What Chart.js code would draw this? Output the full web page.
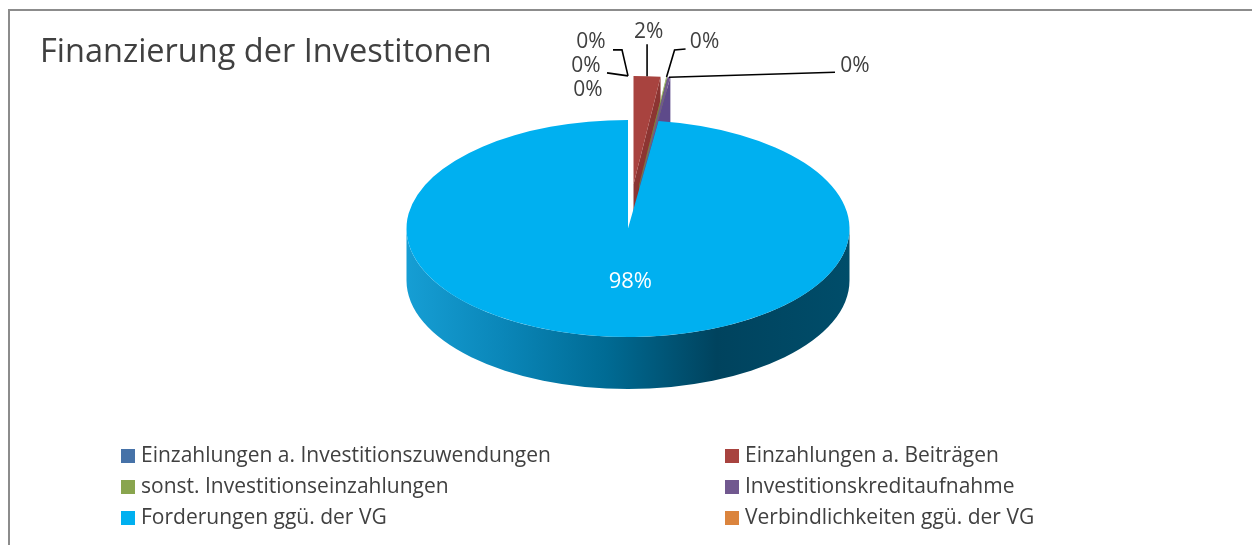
<!DOCTYPE html>
<html>
<head>
<meta charset="utf-8">
<script src="https://cdn.jsdelivr.net/npm/chart.js@4.4.0/dist/chart.umd.min.js"></script>
<style>
  html, body { margin: 0; padding: 0; background: #fff; }
  canvas { display: block; }
</style>
</head>
<body>
<canvas id="chart" width="1252" height="545"></canvas>
<script>
var title = "Finanzierung der Investitonen",
    labels = ["Einzahlungen a. Investitionszuwendungen", "Einzahlungen a. Beiträgen",
              "sonst. Investitionseinzahlungen", "Investitionskreditaufnahme",
              "Forderungen ggü. der VG", "Verbindlichkeiten ggü. der VG", "Sonstiges"],
    values = [0, 1.95, 0.05, 0.2, 97.8, 0, 0];

var colors = ["#4672a8", "#a8433f", "#89a54e", "#71588f", "#00b0f0", "#db843d", "#93a9cf"],
    sideColors = ["#35588a", "#8c3532", "#6f8a3c", "#5e4a8a", "#006b94", "#b86a2c", "#7088b0"],
    explode = [90, 90, 90, 90, 0, 90, 90],
    tilt = 0.49,
    depth = 52,
    textColor = "#404040",
    font = "'Open Sans', sans-serif";

// where each percentage sits, relative to the rim point of its slice,
// plus the leader line start / elbow relative to the label centre
var labelStyle = [
    { dx: -37, dy: -34, line: [[22, 8], [31, 8]] },
    { dx: 1.5, dy: -44, line: [[-1.5, 12]] },
    { dx: 38, dy: -35, line: [[-19, 7], [-30, 8]] },
    { dx: 186, dy: -11, line: [[-20, 6]] },
    { inside: true, dx: 10, dy: -1 },
    { dx: -42, dy: -10, line: [[21, 7]] },
    { dx: -40, dy: 14 }
];

function total() {
    return values.reduce(function (a, b) { return a + b; }, 0);
}

function origin(arc, i) {
    var mid = (arc.startAngle + arc.endAngle) / 2,
        e = explode[i];
    return { x: arc.x + e * Math.cos(mid), y: arc.y + e * Math.sin(mid) * tilt, mid: mid };
}

function rim(o, r, t, dz) {
    return { x: o.x + r * Math.cos(t), y: o.y + r * Math.sin(t) * tilt + (dz || 0) };
}

function cutFace(ctx, o, r, t) {
    var a = rim(o, r, t, 0), b = rim(o, r, t, depth);
    ctx.beginPath();
    ctx.moveTo(o.x, o.y);
    ctx.lineTo(a.x, a.y);
    ctx.lineTo(b.x, b.y);
    ctx.lineTo(o.x, o.y + depth);
    ctx.closePath();
    ctx.fill();
}

function drawSlice(ctx, arc, i) {
    var o = origin(arc, i),
        r = arc.outerRadius,
        a0 = arc.startAngle,
        a1 = arc.endAngle;

    ctx.fillStyle = sideColors[i];
    // flat sides that face the viewer
    if (Math.cos(a0) < -1e-6) cutFace(ctx, o, r, a0);
    if (Math.cos(a1) > 1e-6) cutFace(ctx, o, r, a1);

    // curved outer wall, front half only
    var s = Math.max(a0, 0), e = Math.min(a1, Math.PI);
    if (e > s) {
        var g = ctx.createLinearGradient(o.x - r, 0, o.x + r, 0);
        if (i === 4) {
            g.addColorStop(0, "#169ed4");
            g.addColorStop(0.22, "#0a86b8");
            g.addColorStop(0.45, "#006b94");
            g.addColorStop(0.70, "#00435e");
            g.addColorStop(1, "#004d6a");
        } else {
            g.addColorStop(0, sideColors[i]);
            g.addColorStop(1, sideColors[i]);
        }
        ctx.fillStyle = g;
        ctx.beginPath();
        ctx.ellipse(o.x, o.y, r, r * tilt, 0, s, e, false);
        ctx.ellipse(o.x, o.y + depth, r, r * tilt, 0, e, s, true);
        ctx.closePath();
        ctx.fill();
    }

    // top face
    ctx.fillStyle = colors[i];
    ctx.beginPath();
    ctx.moveTo(o.x, o.y);
    ctx.ellipse(o.x, o.y, r, r * tilt, 0, a0, a1, false);
    ctx.closePath();
    ctx.fill();
}

function drawLabels(chart) {
    var ctx = chart.ctx,
        meta = chart.getDatasetMeta(0),
        sum = total();

    ctx.save();
    ctx.textAlign = "center";
    ctx.textBaseline = "middle";
    meta.data.forEach(function (arc, i) {
        var st = labelStyle[i], o = origin(arc, i), r = arc.outerRadius,
            text = Math.round(values[i] / sum * 100) + "%", lx, ly;
        if (st.inside) {
            lx = o.x + r * 0.5 * Math.cos(o.mid) + st.dx;
            ly = o.y + r * 0.5 * Math.sin(o.mid) * tilt + st.dy;
            ctx.font = "22px " + font;
            ctx.fillStyle = "#ffffff";
        } else {
            var p = rim(o, r, o.mid);
            lx = p.x + st.dx;
            ly = p.y + st.dy;
            if (st.line) {
                ctx.strokeStyle = "#000000";
                ctx.lineWidth = 1.6;
                ctx.beginPath();
                st.line.forEach(function (pt, j) {
                    if (j === 0) ctx.moveTo(lx + pt[0], ly + pt[1]);
                    else ctx.lineTo(lx + pt[0], ly + pt[1]);
                });
                ctx.lineTo(p.x, p.y);
                ctx.stroke();
            }
            ctx.font = "21px " + font;
            ctx.fillStyle = textColor;
        }
        ctx.fillText(text, lx, ly);
    });
    ctx.restore();
}

function drawLegend(chart) {
    var ctx = chart.ctx, h = chart.height;
    ctx.save();
    ctx.font = "21px " + font;
    ctx.textBaseline = "middle";
    labels.forEach(function (label, i) {
        var x = i % 2 === 0 ? 121 : 725,
            y = 456 + Math.floor(i / 2) * 31;
        if (y + 8 > h) return;
        ctx.fillStyle = colors[i];
        ctx.fillRect(x, y - 7, 14, 14);
        ctx.fillStyle = textColor;
        ctx.fillText(label, x + 20, y);
    });
    ctx.restore();
}

var pie3d = {
    id: "pie3d",
    beforeDraw: function (chart) {
        var ctx = chart.ctx;
        ctx.save();
        ctx.fillStyle = "#ffffff";
        ctx.fillRect(0, 0, chart.width, chart.height);
        ctx.fillStyle = "#8c8c8c";
        ctx.fillRect(8, 9, chart.width - 8, 2);
        ctx.fillRect(8, 9, 2, chart.height - 9);
        ctx.fillStyle = textColor;
        ctx.font = "32.5px " + font;
        ctx.textBaseline = "alphabetic";
        ctx.fillText(title, 40, 62);
        ctx.restore();
    },
    beforeDatasetsDraw: function (chart) {
        var ctx = chart.ctx,
            meta = chart.getDatasetMeta(0);
        var order = meta.data.map(function (a, i) { return i; })
            .filter(function (i) { return values[i] > 0; })
            .sort(function (a, b) {
                var ma = origin(meta.data[a], a).mid, mb = origin(meta.data[b], b).mid;
                return Math.sin(ma) - Math.sin(mb);
            });
        ctx.save();
        order.forEach(function (i) { drawSlice(ctx, meta.data[i], i); });
        ctx.restore();
        return false;
    },
    afterDraw: function (chart) {
        drawLabels(chart);
        drawLegend(chart);
    }
};

window.onload = function () {
    var ctx = document.getElementById("chart");
    new Chart(ctx, {
        type: "pie",
        data: {
            labels: labels,
            datasets: [{ data: values, backgroundColor: colors, borderWidth: 0 }]
        },
        options: {
            responsive: false,
            animation: false,
            layout: { padding: { left: 406, right: 402, top: 7, bottom: 95 } },
            plugins: { legend: { display: false }, tooltip: { enabled: false } }
        },
        plugins: [pie3d]
    });
};
</script>
</body>
</html>
